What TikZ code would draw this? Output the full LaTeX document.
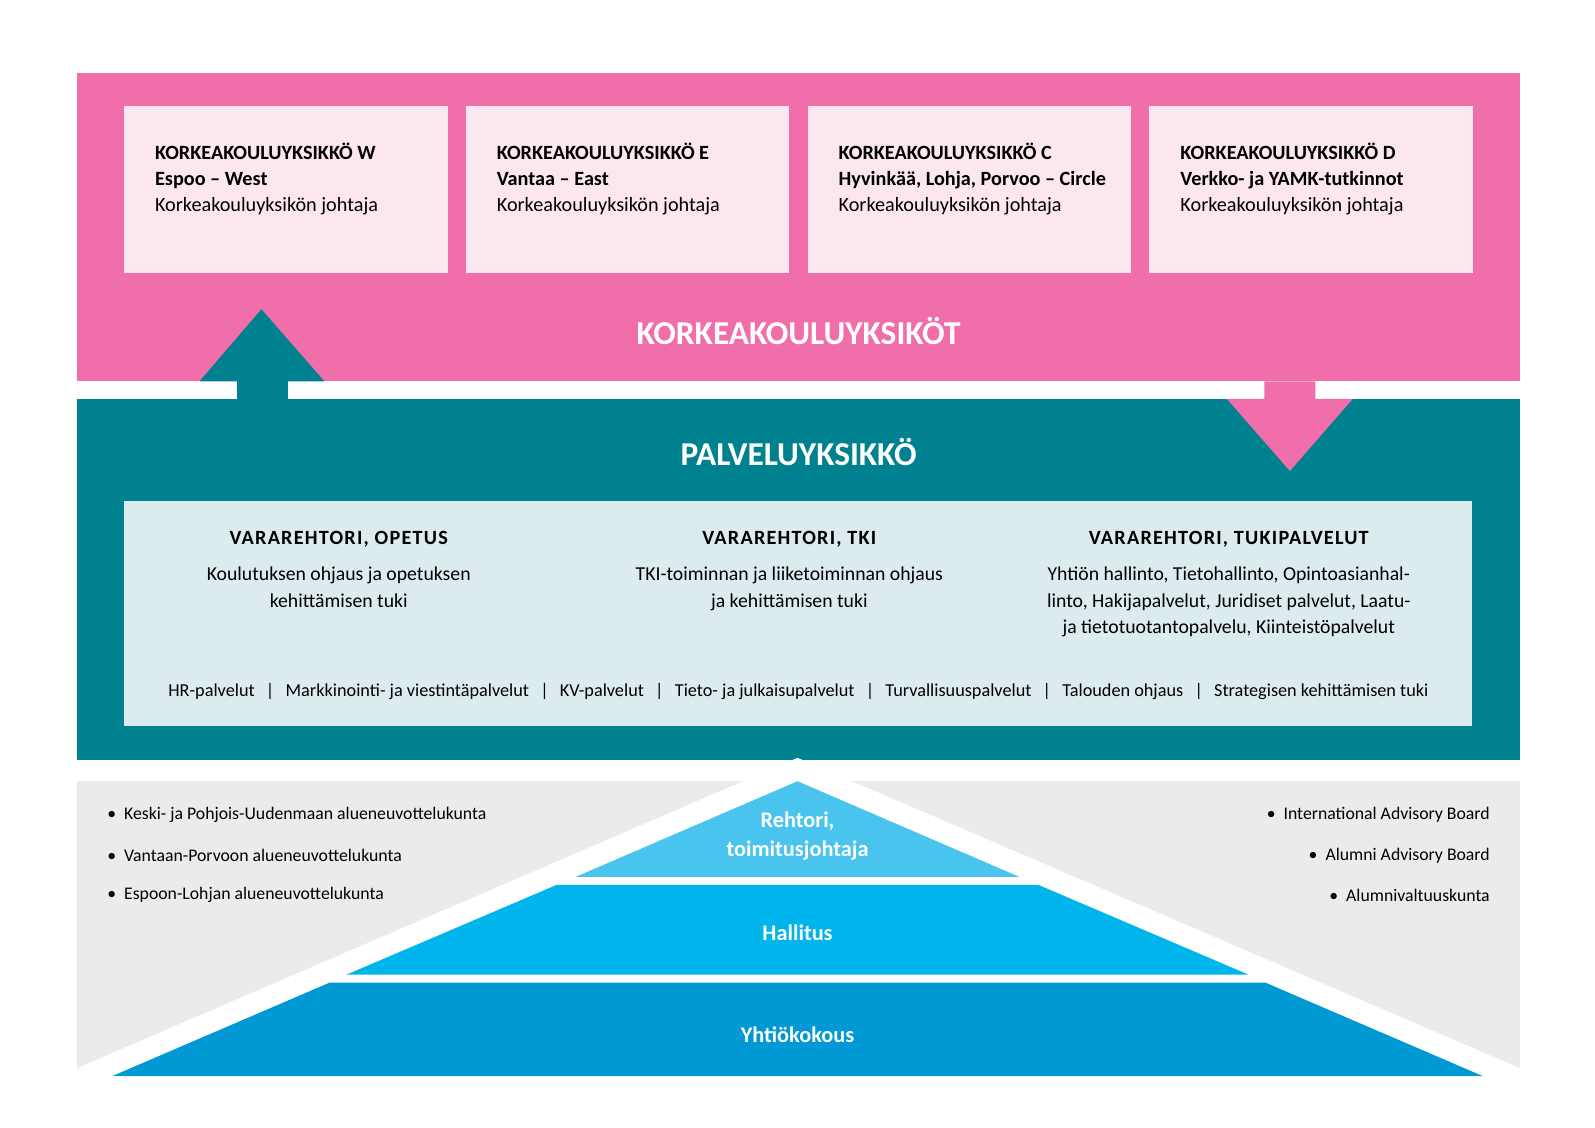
\documentclass[tikz,border=0pt]{standalone}
\usepackage{fontspec}
\setmainfont{Carlito}
\definecolor{pinkc}{HTML}{F06EA9}
\definecolor{pinkl}{HTML}{FCE6F0}
\definecolor{tealc}{HTML}{00818F}
\definecolor{teall}{HTML}{DCEBEE}
\definecolor{greyc}{HTML}{EBEBEB}
\definecolor{blue1}{HTML}{48C4EE}
\definecolor{blue2}{HTML}{00B4EC}
\definecolor{blue3}{HTML}{0099D3}
\begin{document}
\begin{tikzpicture}[x=1.0172bp,y=-1.0172bp,
  hdr/.style={font=\fontsize{20.3}{26.4}\selectfont,anchor=west,align=left,text=black},
  big/.style={font=\fontsize{33.5}{36}\selectfont\bfseries,text=white},
  vr/.style={font=\fontsize{20.3}{26}\selectfont\bfseries\addfontfeatures{LetterSpace=6},anchor=center},
  vb/.style={font=\fontsize{19.8}{26.4}\selectfont,align=center,anchor=north},
  bul/.style={font=\fontsize{17.8}{20}\selectfont},
  pyr/.style={font=\fontsize{22.4}{28.4}\selectfont\bfseries,text=white,align=center}]
\clip (0,0) rectangle (1568,1108);
\fill[white] (0,0) rectangle (1568,1108);
% pink band
\fill[pinkc] (76,72) rectangle (1494,375);
\fill[tealc] (76,392) rectangle (1494,747);
% arrows
\fill[tealc] (233,392) -- (233,375) -- (196,375) -- (257,304) -- (319,375) -- (283,375) -- (283,392) -- cycle;
\fill[pinkc] (1243,375) -- (1293,375) -- (1293,392) -- (1330,392) -- (1268,463) -- (1206,392) -- (1243,392) -- cycle;
% unit boxes
\foreach \x in {122,458,794,1130}{
  \fill[pinkl] (\x,104) rectangle ++(318,164);
}
\node[hdr] (ua) at (149,176) {\textbf{KORKEAKOULUYKSIKKÖ W}\\\textbf{Espoo – West}\\Korkeakouluyksikön johtaja};
\node[hdr] (ub) at (485,176) {\textbf{KORKEAKOULUYKSIKKÖ E}\\\textbf{Vantaa – East}\\Korkeakouluyksikön johtaja};
\node[hdr] (uc) at (821,176) {\textbf{KORKEAKOULUYKSIKKÖ C}\\\textbf{Hyvinkää, Lohja, Porvoo – Circle}\\Korkeakouluyksikön johtaja};
\node[hdr] (ud) at (1157,176) {\textbf{KORKEAKOULUYKSIKKÖ D}\\\textbf{Verkko- ja YAMK-tutkinnot}\\Korkeakouluyksikön johtaja};
\node[big] (kk) at (785,325) {KORKEAKOULUYKSIKÖT};
\node[big] (pu) at (785,444) {PALVELUYKSIKKÖ};
% service box
\fill[teall] (122,493) rectangle (1447,714);
\node[vr] (v1) at (333,530) {VARAREHTORI, OPETUS};
\node[vr] (v2) at (776,530) {VARAREHTORI, TKI};
\node[vr] (v3) at (1208,530) {VARAREHTORI, TUKIPALVELUT};
\node[vb] (t1) at (333,554) {Koulutuksen ohjaus ja opetuksen\\kehittämisen tuki};
\node[vb] (t2) at (776,554) {TKI-toiminnan ja liiketoiminnan ohjaus\\ja kehittämisen tuki};
\node[vb] (t3) at (1208,554) {Yhtiön hallinto, Tietohallinto, Opintoasianhal-\\linto, Hakijapalvelut, Juridiset palvelut, Laatu-\\ja tietotuotantopalvelu, Kiinteistöpalvelut};
\node[font=\fontsize{18.3}{20}\selectfont] (hr) at (785,680) {HR-palvelut \ \,|\ \, Markkinointi- ja viestintäpalvelut \ \,|\ \, KV-palvelut \ \,|\ \, Tieto- ja julkaisupalvelut \ \,|\ \, Turvallisuuspalvelut \ \,|\ \, Talouden ohjaus \ \,|\ \, Strategisen kehittämisen tuki};
% governance
\fill[greyc] (76,768) rectangle (1494,1058);
\fill[white] (784,745) -- (76,1050) -- (76,1058) -- (1494,1058) -- (1494,1050) -- cycle;
\fill[blue1] (784,768) -- (1002,862) -- (566,862) -- cycle;
\fill[blue2] (547,870) -- (1021,870) -- (1227,958) -- (341,958) -- cycle;
\fill[blue3] (324,966) -- (1244,966) -- (1458,1058) -- (110,1058) -- cycle;
\node[pyr] (re) at (784,822) {Rehtori,\\toimitusjohtaja};
\node[pyr] (ha) at (784,917) {Hallitus};
\node[pyr] (yk) at (784,1017) {Yhtiökokous};
\node[bul,anchor=west] (l1) at (102,801) {• \ Keski- ja Pohjois-Uudenmaan alueneuvottelukunta};
\node[bul,anchor=west] (l2) at (102,841) {• \ Vantaan-Porvoon alueneuvottelukunta};
\node[bul,anchor=west] (l3) at (102,880) {• \ Espoon-Lohjan alueneuvottelukunta};
\node[bul,anchor=east] (r1) at (1468,801) {• \ International Advisory Board};
\node[bul,anchor=east] (r2) at (1468,841) {• \ Alumni Advisory Board};
\node[bul,anchor=east] (r3) at (1468,880) {• \ Alumnivaltuuskunta};
\end{tikzpicture}
\end{document}
